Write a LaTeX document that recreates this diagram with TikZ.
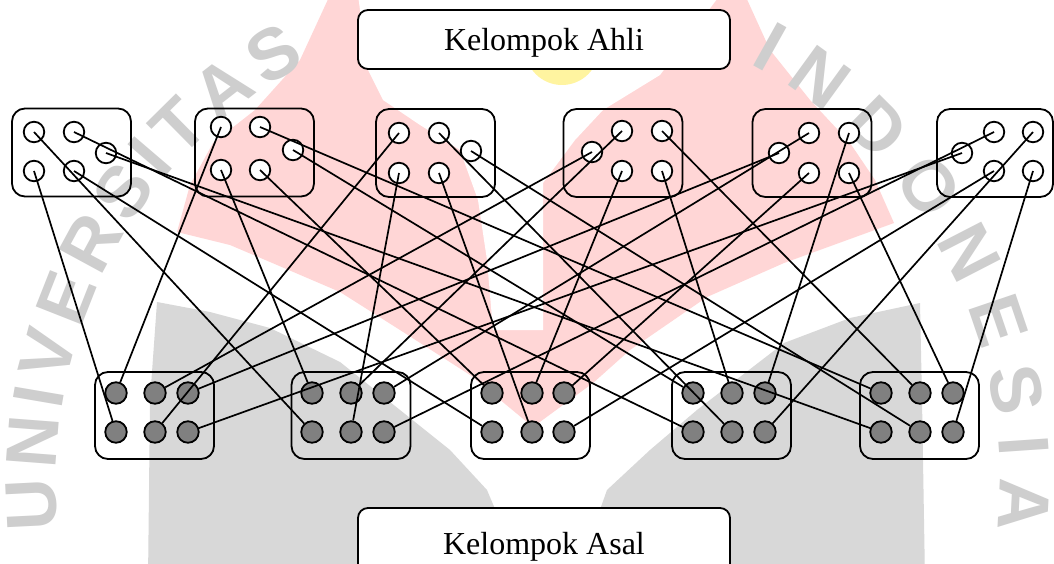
\documentclass[tikz,border=0pt]{standalone}
\usepackage{fontspec}
\setmainfont{Liberation Serif}
\newfontfamily\wmfam{Liberation Sans}
\newcommand\wmfont{\wmfam\bfseries\fontsize{72}{72}\selectfont}
\usetikzlibrary{decorations.text}
\definecolor{homegray}{RGB}{128,128,128}
\definecolor{wmpink}{RGB}{255,214,214}
\definecolor{wmgray}{RGB}{216,216,216}
\definecolor{wmletter}{RGB}{206,206,206}
\definecolor{wmyellow}{RGB}{255,244,160}
\begin{document}
\begin{tikzpicture}[x=1pt,y=-1pt,
  grp/.style={draw, line width=1.8pt, rounded corners=13pt, minimum width=119pt, minimum height=88pt, inner sep=0pt},
  ex/.style={circle, draw, fill=white, line width=1.8pt, minimum size=20.5pt, inner sep=0pt},
  hm/.style={circle, draw, fill=homegray, line width=1.8pt, minimum size=21.5pt, inner sep=0pt},
  link/.style={line width=1.7pt},
  wmtext/.style={decorate, decoration={text along path, text color=wmletter, text align={fit to path}}},
  titlebox/.style={draw, fill=white, line width=1.8pt, rounded corners=10pt, minimum width=372pt, inner sep=0pt, text depth=0pt, font=\fontsize{32}{36}\selectfont}]
\useasboundingbox (0,0) rectangle (1054,564);
\clip (0,0) rectangle (1054,564);
\fill[white] (0,0) rectangle (1054,564);

% ---------- watermark (faded logo) ----------
\fill[wmpink] (330,-5) -- (300,60) -- (255,110) -- (213,143) -- (190,185) -- (177,232)
  -- (230,245) -- (270,262) -- (340,292) -- (400,330) -- (470,375) -- (533,427)
  -- (593,383) -- (630,350) -- (707,297) -- (784,263) -- (894,223)
  -- (875,180) -- (850,143) -- (810,100) -- (770,50) -- (745,-5) -- cycle;
\fill[white] (358,-5) -- (368,70) -- (383,100) -- (420,125) -- (460,150) -- (478,200)
  -- (487,260) -- (493,330) -- (543,330) -- (543,183) -- (575,140) -- (603,110)
  -- (660,75) -- (720,-5) -- cycle;
\fill[wmyellow] (562,48) circle[radius=37];
\fill[wmgray] (157,302) -- (210,312) -- (270,328) -- (340,362) -- (400,410) -- (450,450)
  -- (487,490) -- (525,580) -- (148,580) -- (150,400) -- cycle;
\fill[wmgray] (920,303) -- (850,318) -- (784,343) -- (697,410) -- (650,450) -- (607,490)
  -- (575,580) -- (925,580) -- (922,400) -- cycle;
\path[wmtext, decoration={text={|\wmfont|UNIVERSITAS}}]
  (528,480) ++(174:472) arc[start angle=174, end angle=242, radius=472];
\path[wmtext, decoration={text={|\wmfont|INDONESIA}}]
  (528,480) ++(298:472) arc[start angle=298, end angle=366, radius=472];

% ---------- titles ----------
\node[titlebox, minimum height=59pt] (ahli) at (544,39.5) {Kelompok Ahli};
\node[titlebox, minimum height=70pt] (asal) at (544,543) {Kelompok Asal};

% ---------- expert group boxes ----------
\node[grp] (T1) at (71.5,152.5) {};
\node[grp] (T2) at (254.5,152.5) {};
\node[grp] (T3) at (435.5,153) {};
\node[grp] (T4) at (623,153) {};
\node[grp] (T5) at (812,153) {};
\node[grp, minimum width=116pt] (T6) at (995,153) {};

% ---------- home group boxes ----------
\foreach \n/\cx in {1/154.5,2/351,3/530.5,4/731.5,5/919.5}
  \node[grp, minimum height=87pt] (B\n) at (\cx,415.5) {};

% expert circles: t<group><destination home group>
\node[ex] (t12) at (34,132) {};  \node[ex] (t14) at (74,132) {};
\node[ex] (t15) at (106,153) {}; \node[ex] (t11) at (34,171) {};
\node[ex] (t13) at (74,171) {};
\node[ex] (t21) at (221,127) {}; \node[ex] (t25) at (260,127) {};
\node[ex] (t24) at (293,150) {}; \node[ex] (t22) at (221,170) {};
\node[ex] (t23) at (260,170) {};
\node[ex] (t31) at (399,133) {}; \node[ex] (t34) at (439,133) {};
\node[ex] (t35) at (471,151) {}; \node[ex] (t32) at (399,173) {};
\node[ex] (t33) at (439,173) {};
\node[ex] (t41) at (592,152) {}; \node[ex] (t42) at (622,131) {};
\node[ex] (t45) at (662,131) {}; \node[ex] (t43) at (622,171) {};
\node[ex] (t44) at (662,171) {};
\node[ex] (t51) at (779,153) {}; \node[ex] (t52) at (809,133) {};
\node[ex] (t54) at (849,133) {}; \node[ex] (t53) at (809,173) {};
\node[ex] (t55) at (849,173) {};
\node[ex] (t61) at (962,153) {}; \node[ex] (t62) at (994,132) {};
\node[ex] (t64) at (1033,132) {}; \node[ex] (t63) at (994,171) {};
\node[ex] (t65) at (1033,171) {};

% home circles: b<group><position>
\foreach \n/\a/\b/\c in {1/116/155/188,2/312/351/384,3/492/532/564,4/693/732/765,5/881/920/953}{
  \node[hm] (b\n1) at (\a,393) {};
  \node[hm] (b\n2) at (\b,393) {};
  \node[hm] (b\n3) at (\c,393) {};
  \node[hm] (b\n4) at (\a,432) {};
  \node[hm] (b\n5) at (\b,432) {};
  \node[hm] (b\n6) at (\c,432) {};
}

% connectors: expert group i takes member p of every home group j
\foreach \i/\p in {1/4,2/1,3/5,4/2,5/3,6/6}
  \foreach \j in {1,...,5}
    \draw[link] (t\i\j.center) -- (b\j\p);
\end{tikzpicture}
\end{document}
